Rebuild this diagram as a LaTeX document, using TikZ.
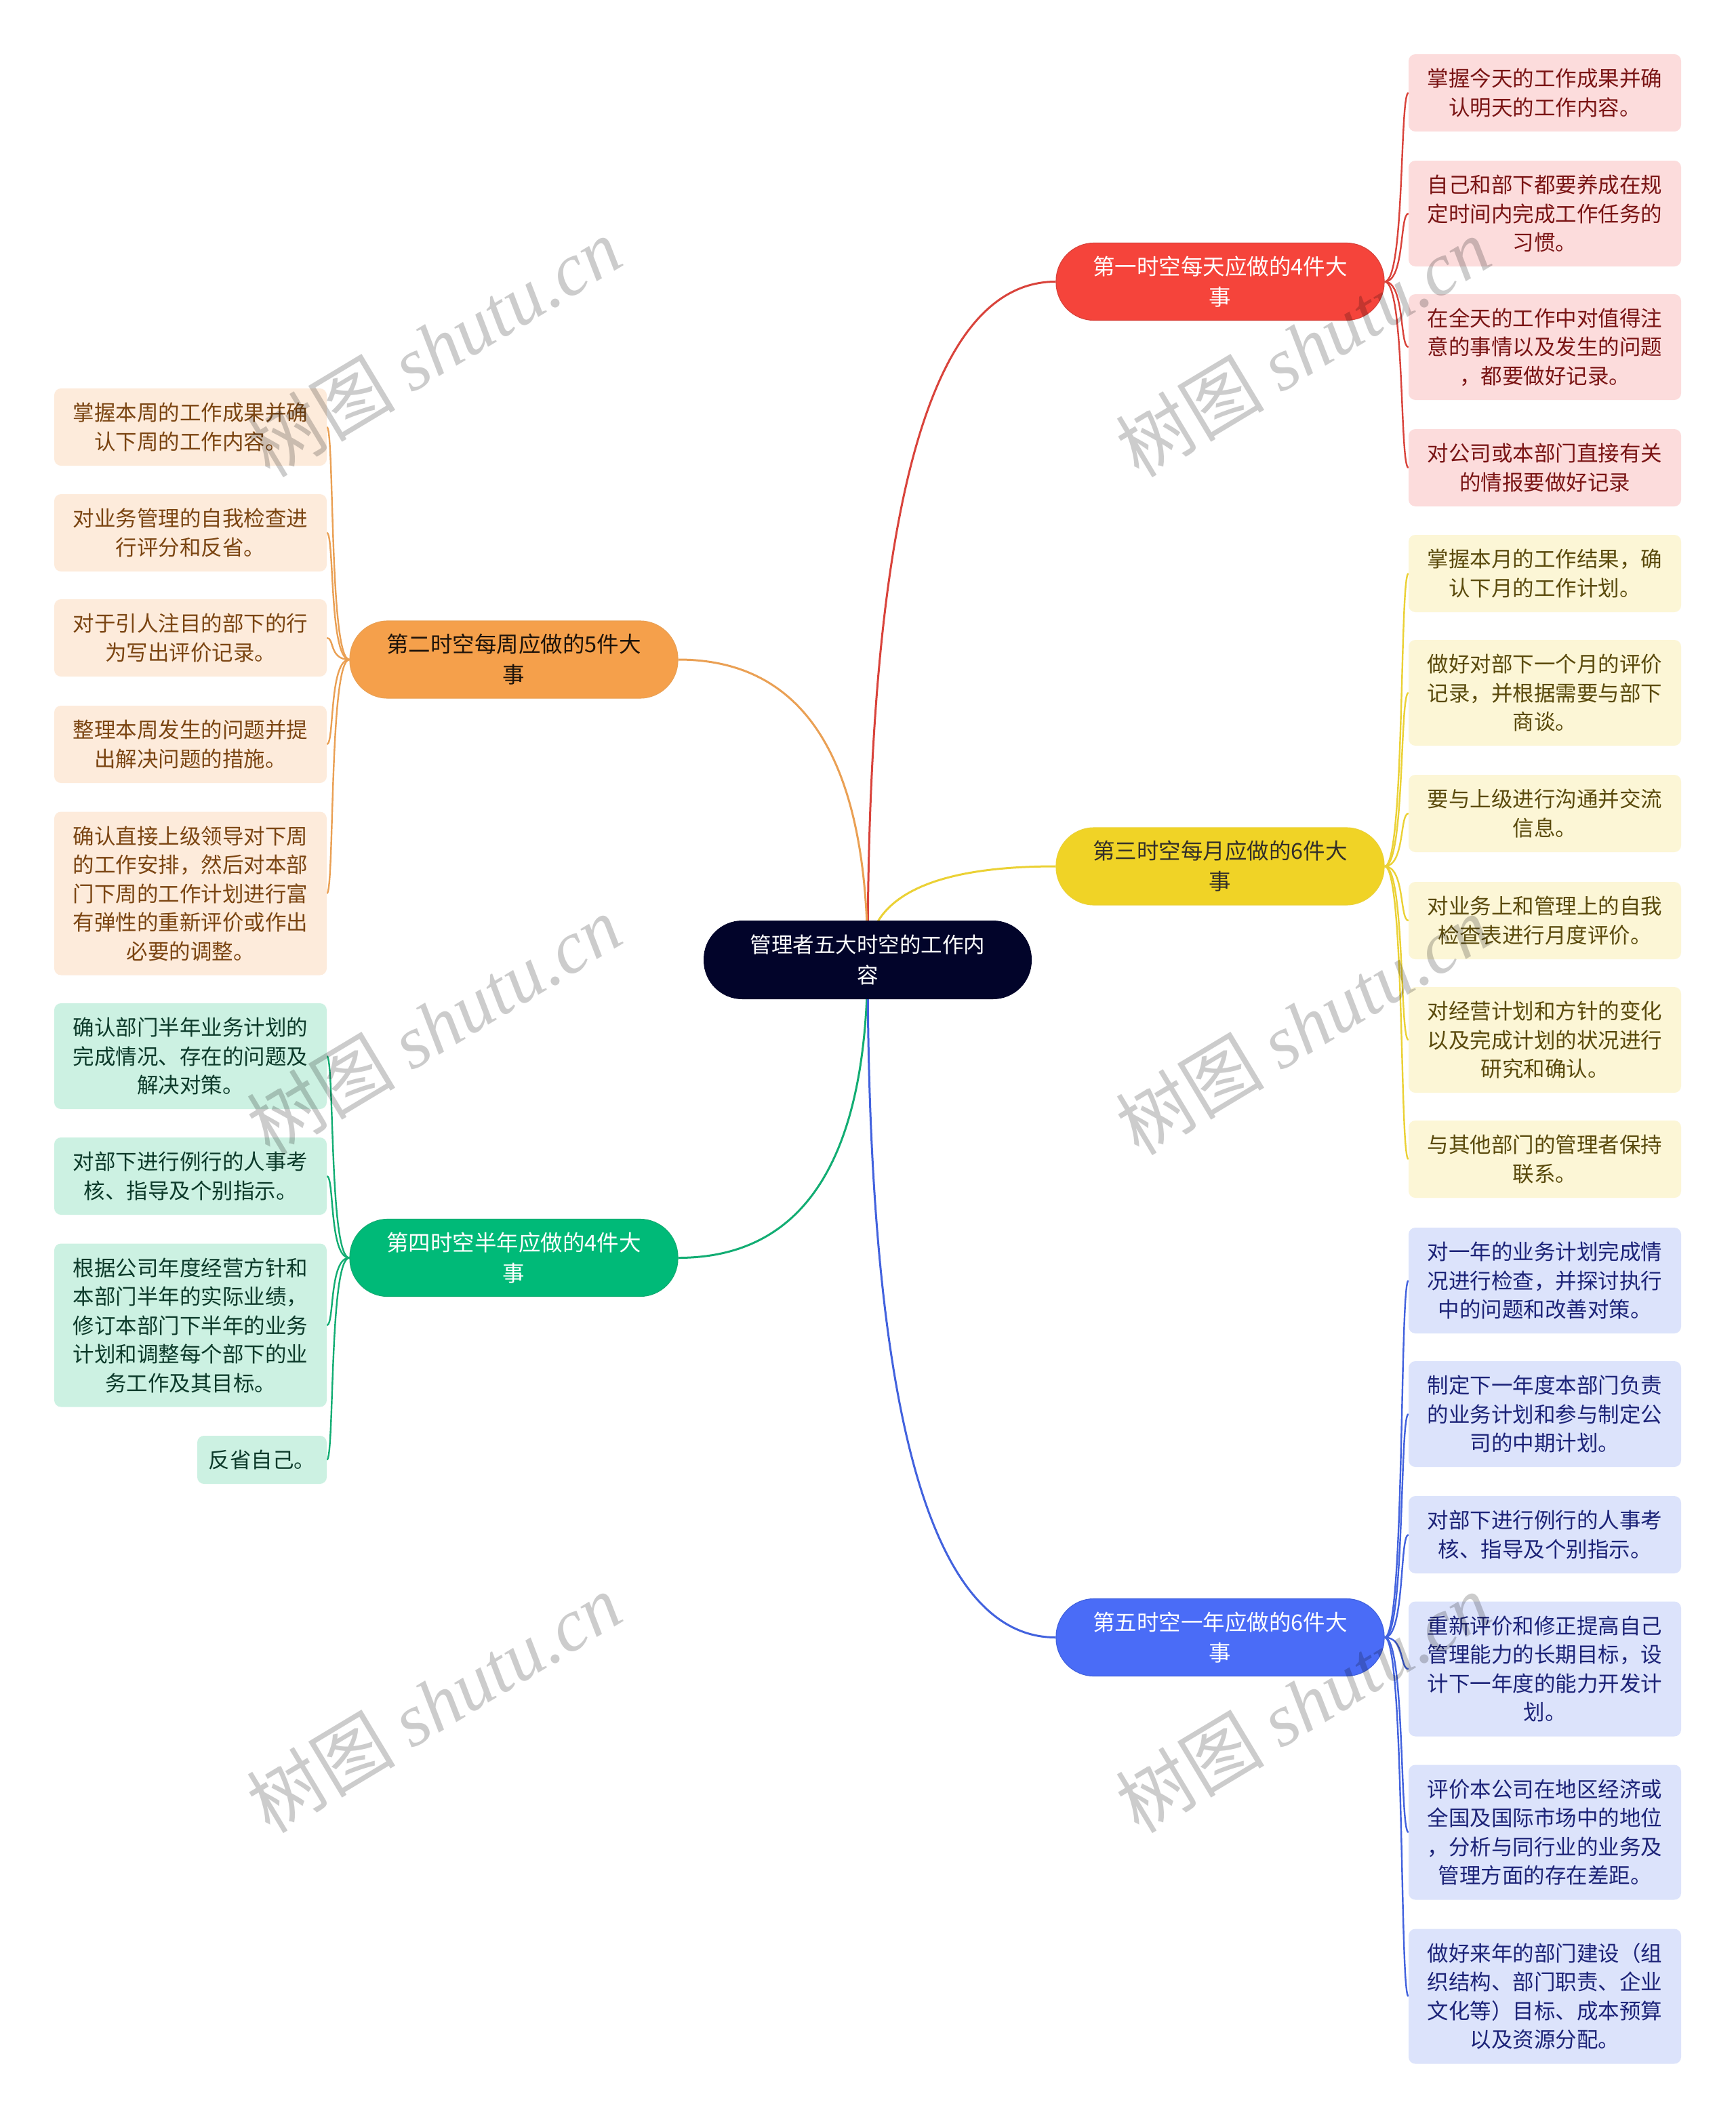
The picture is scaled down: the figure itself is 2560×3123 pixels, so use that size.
\documentclass[tikz,border=0pt]{standalone}
\usepackage{fontspec}
\setmainfont{Noto Sans CJK SC}
\newfontfamily\wmserif{Liberation Serif}
\usetikzlibrary{calc}
\definecolor{cRed}{HTML}{F5443B}
\definecolor{cOrg}{HTML}{F5A04B}
\definecolor{cYel}{HTML}{F0D326}
\definecolor{cGrn}{HTML}{00BA78}
\definecolor{cBlu}{HTML}{4A6CF7}
\definecolor{cCtr}{HTML}{02042A}
\definecolor{fRed}{HTML}{FCDCDC}
\definecolor{fOrg}{HTML}{FDEBDB}
\definecolor{fYel}{HTML}{FCF6D6}
\definecolor{fGrn}{HTML}{CCF1E2}
\definecolor{fBlu}{HTML}{DCE3FB}
\definecolor{tRed}{HTML}{7A1414}
\definecolor{tOrg}{HTML}{7B4512}
\definecolor{tYel}{HTML}{5A4A0C}
\definecolor{tGrn}{HTML}{0C3A2A}
\definecolor{tBlu}{HTML}{1C2378}
\definecolor{lRed}{HTML}{D9433B}
\definecolor{lOrg}{HTML}{EAA054}
\definecolor{lYel}{HTML}{EBD135}
\definecolor{lGrn}{HTML}{12AD73}
\definecolor{lBlu}{HTML}{4262DE}
\pgfdeclarelayer{back}
\pgfdeclarelayer{bg}
\pgfsetlayers{back,bg,main}
\newcommand\mainlink[3]{\draw[#3] (ctr.center) .. controls ($(ctr.center)!0.6667!(ctr.center |- #1.#2)$) and ($(#1.#2)!0.6667!(ctr.center |- #1.#2)$) .. (#1.#2);}
\newcommand\rlink[3]{\draw[#3] (#1.east) .. controls ($(#1.east)+(30,0)$) and ($(#1.east |- #2.west)+(22,0)$) .. (#2.west);}
\newcommand\llink[3]{\draw[#3] (#1.west) .. controls ($(#1.west)+(-30,0)$) and ($(#1.west |- #2.east)+(-22,0)$) .. (#2.east);}
\tikzset{
  mainnode/.style={rectangle, rounded corners=56pt, minimum width=484pt, minimum height=114pt, inner sep=0pt, align=center, font=\fontsize{32.5}{45}\selectfont},
  leafnode/.style={rectangle, rounded corners=10pt, minimum width=402pt, inner sep=0pt, align=center, font=\fontsize{31.5}{42.5}\selectfont},
  hA/.style={minimum height=71pt},
  hB/.style={minimum height=114pt},
  hC/.style={minimum height=156pt},
  hD/.style={minimum height=199pt},
  hE/.style={minimum height=241pt},
  lfR/.style={leafnode, fill=fRed, text=tRed},
  lfO/.style={leafnode, fill=fOrg, text=tOrg},
  lfY/.style={leafnode, fill=fYel, text=tYel},
  lfG/.style={leafnode, fill=fGrn, text=tGrn},
  lfB/.style={leafnode, fill=fBlu, text=tBlu},
  mlR/.style={draw=lRed, line width=3pt},
  mlO/.style={draw=lOrg, line width=3pt},
  mlY/.style={draw=lYel, line width=3pt},
  mlG/.style={draw=lGrn, line width=3pt},
  mlB/.style={draw=lBlu, line width=3pt},
  slR/.style={draw=lRed, line width=2.4pt},
  slO/.style={draw=lOrg, line width=2.4pt},
  slY/.style={draw=lYel, line width=2.4pt},
  slG/.style={draw=lGrn, line width=2.4pt},
  slB/.style={draw=lBlu, line width=2.4pt},
  wm/.style={text=black, text opacity=0.2, font=\fontsize{110}{120}\selectfont, inner sep=0pt, rotate=31}
}
\begin{document}
\begin{tikzpicture}[x=1pt, y=-1pt]
\begin{pgfonlayer}{back}
\fill[white] (0,0) rectangle (2560,3123);
\end{pgfonlayer}
\useasboundingbox (0,0) rectangle (2560,3123);
% center
\node[mainnode, fill=cCtr, text=white, rounded corners=57pt, minimum height=116pt, font=\fontsize{31.5}{45}\selectfont] (ctr) at (1280,1416) {管理者五大时空的工作内\\容};
% main
\node[mainnode, fill=cRed, draw=lRed, line width=1.2pt, text=white] (red) at (1800,415.5) {第一时空每天应做的4件大\\事};
\node[mainnode, fill=cOrg, draw=lOrg, line width=1.2pt, text=black!85!brown] (org) at (758,973) {第二时空每周应做的5件大\\事};
\node[mainnode, fill=cYel, draw=lYel, line width=1.2pt, text=black!85!olive] (yel) at (1800,1278) {第三时空每月应做的6件大\\事};
\node[mainnode, fill=cGrn, draw=lGrn, line width=1.2pt, text=white] (grn) at (758,1855.5) {第四时空半年应做的4件大\\事};
\node[mainnode, fill=cBlu, draw=lBlu, line width=1.2pt, text=white] (blu) at (1800,2415.5) {第五时空一年应做的6件大\\事};
% red leaves
\node[lfR, hB] (r1) at (2279,137) {掌握今天的工作成果并确\\认明天的工作内容。};
\node[lfR, hC] (r2) at (2279,315) {自己和部下都要养成在规\\定时间内完成工作任务的\\习惯。};
\node[lfR, hC] (r3) at (2279,512) {在全天的工作中对值得注\\意的事情以及发生的问题\\，都要做好记录。};
\node[lfR, hB] (r4) at (2279,690) {对公司或本部门直接有关\\的情报要做好记录};
% yellow leaves
\node[lfY, hB] (y1) at (2279,846) {掌握本月的工作结果，确\\认下月的工作计划。};
\node[lfY, hC] (y2) at (2279,1022) {做好对部下一个月的评价\\记录，并根据需要与部下\\商谈。};
\node[lfY, hB] (y3) at (2279,1200) {要与上级进行沟通并交流\\信息。};
\node[lfY, hB] (y4) at (2279,1358) {对业务上和管理上的自我\\检查表进行月度评价。};
\node[lfY, hC] (y5) at (2279,1534) {对经营计划和方针的变化\\以及完成计划的状况进行\\研究和确认。};
\node[lfY, hB] (y6) at (2279,1710) {与其他部门的管理者保持\\联系。};
% blue leaves
\node[lfB, hC] (b1) at (2279,1889) {对一年的业务计划完成情\\况进行检查，并探讨执行\\中的问题和改善对策。};
\node[lfB, hC] (b2) at (2279,2086) {制定下一年度本部门负责\\的业务计划和参与制定公\\司的中期计划。};
\node[lfB, hB] (b3) at (2279,2264) {对部下进行例行的人事考\\核、指导及个别指示。};
\node[lfB, hD] (b4) at (2279,2462) {重新评价和修正提高自己\\管理能力的长期目标，设\\计下一年度的能力开发计\\划。};
\node[lfB, hD] (b5) at (2279,2703) {评价本公司在地区经济或\\全国及国际市场中的地位\\，分析与同行业的业务及\\管理方面的存在差距。};
\node[lfB, hD] (b6) at (2279,2945) {做好来年的部门建设（组\\织结构、部门职责、企业\\文化等）目标、成本预算\\以及资源分配。};
% orange leaves
\node[lfO, hB] (o1) at (281,630) {掌握本周的工作成果并确\\认下周的工作内容。};
\node[lfO, hB] (o2) at (281,786) {对业务管理的自我检查进\\行评分和反省。};
\node[lfO, hB] (o3) at (281,941) {对于引人注目的部下的行\\为写出评价记录。};
\node[lfO, hB] (o4) at (281,1098) {整理本周发生的问题并提\\出解决问题的措施。};
\node[lfO, hE] (o5) at (281,1318) {确认直接上级领导对下周\\的工作安排，然后对本部\\门下周的工作计划进行富\\有弹性的重新评价或作出\\必要的调整。};
% green leaves
\node[lfG, hC] (g1) at (281,1558) {确认部门半年业务计划的\\完成情况、存在的问题及\\解决对策。};
\node[lfG, hB] (g2) at (281,1735) {对部下进行例行的人事考\\核、指导及个别指示。};
\node[lfG, hE] (g3) at (281,1955) {根据公司年度经营方针和\\本部门半年的实际业绩，\\修订本部门下半年的业务\\计划和调整每个部下的业\\务工作及其目标。};
\node[lfG, hA, minimum width=191pt] (g4) at (386.5,2153.5) {反省自己。};
% connectors
\begin{pgfonlayer}{bg}
\mainlink{red}{west}{mlR}
\mainlink{org}{east}{mlO}
\mainlink{yel}{west}{mlY}
\mainlink{grn}{east}{mlG}
\mainlink{blu}{west}{mlB}
\foreach \l in {r1,r2,r3,r4}{\rlink{red}{\l}{slR}}
\foreach \l in {y1,y2,y3,y4,y5,y6}{\rlink{yel}{\l}{slY}}
\foreach \l in {b1,b2,b3,b4,b5,b6}{\rlink{blu}{\l}{slB}}
\foreach \l in {o1,o2,o3,o4,o5}{\llink{org}{\l}{slO}}
\foreach \l in {g1,g2,g3,g4}{\llink{grn}{\l}{slG}}
\end{pgfonlayer}
% watermarks
\node[wm] (wm1) at (640,512) {树图 {\wmserif\itshape shutu.cn}};
\node[wm] (wm2) at (640,1512) {树图 {\wmserif\itshape shutu.cn}};
\node[wm] (wm3) at (640,2512) {树图 {\wmserif\itshape shutu.cn}};
\node[wm] (wm4) at (1922,512) {树图 {\wmserif\itshape shutu.cn}};
\node[wm] (wm5) at (1922,1512) {树图 {\wmserif\itshape shutu.cn}};
\node[wm] (wm6) at (1922,2512) {树图 {\wmserif\itshape shutu.cn}};
\end{tikzpicture}
\end{document}
